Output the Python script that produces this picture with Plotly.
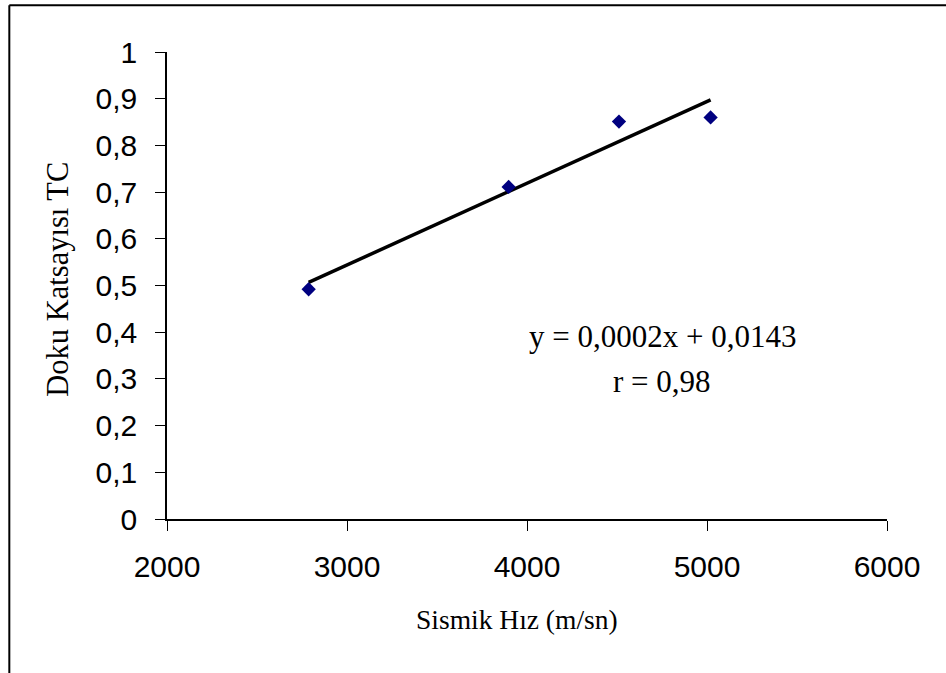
import numpy as np
import plotly.graph_objects as go

# Data
velocity = [2787, 3898, 4511, 5020]          # Sismik Hız (m/sn)
texture_coef = [0.492, 0.711, 0.851, 0.860]  # Doku Katsayısı TC

x_tickvals = [2000, 3000, 4000, 5000, 6000]
x_ticktext = ["2000", "3000", "4000", "5000", "6000"]
y_tickvals = [0, 0.1, 0.2, 0.3, 0.4, 0.5, 0.6, 0.7, 0.8, 0.9, 1.0]
y_ticktext = ["0", "0,1", "0,2", "0,3", "0,4", "0,5", "0,6", "0,7", "0,8", "0,9", "1"]

x_title = "Sismik Hız (m/sn)"
y_title = "Doku Katsayısı TC"
equation_text = "y = 0,0002x + 0,0143"
r_text = "r = 0,98"

# Linear trendline fitted to the data
slope, intercept = np.polyfit(velocity, texture_coef, 1)
trend_x = [min(velocity), max(velocity)]
trend_y = [slope * v + intercept for v in trend_x]

fig = go.Figure()
fig.add_trace(go.Scatter(
    x=trend_x, y=trend_y, mode="lines",
    line=dict(color="black", width=3.5),
    showlegend=False, hoverinfo="skip",
))
fig.add_trace(go.Scatter(
    x=velocity, y=texture_coef, mode="markers",
    marker=dict(symbol="diamond", size=11, color="#000080"),
    showlegend=False,
))

serif = "Liberation Serif, Times New Roman, serif"
sans = "Liberation Sans, Arial, sans-serif"

fig.update_layout(
    width=946, height=673,
    margin=dict(l=167, r=59, t=52, b=154),
    paper_bgcolor="white", plot_bgcolor="white",
    xaxis=dict(
        range=[2000, 6000], tickvals=x_tickvals, ticktext=x_ticktext,
        showgrid=False, zeroline=False, showline=True, linecolor="black", linewidth=1.5,
        ticks="outside", ticklen=10, tickwidth=1, tickcolor="black",
        tickfont=dict(family=sans, size=30, color="black"),
        ticklabelstandoff=10,
    ),
    yaxis=dict(
        range=[0, 1], tickvals=y_tickvals, ticktext=y_ticktext,
        showgrid=False, zeroline=False, showline=True, linecolor="black", linewidth=1.5,
        ticks="outside", ticklen=10, tickwidth=1, tickcolor="black",
        tickfont=dict(family=sans, size=30, color="black"),
        ticklabelstandoff=12,
    ),
    annotations=[
        dict(x=4751, y=0.39, xref="x", yref="y", text=equation_text, showarrow=False,
             font=dict(family=serif, size=31, color="black")),
        dict(x=4751, y=0.294, xref="x", yref="y", text=r_text, showarrow=False,
             font=dict(family=serif, size=31, color="black")),
        dict(x=0.4857, y=-0.2154, xref="paper", yref="paper", text=x_title, showarrow=False,
             xanchor="center", yanchor="middle",
             font=dict(family=serif, size=27.5, color="black")),
        dict(x=-0.1518, y=0.514, xref="paper", yref="paper", text=y_title, showarrow=False,
             textangle=-90, xanchor="center", yanchor="middle",
             font=dict(family=serif, size=30.5, color="black")),
    ],
    shapes=[
        dict(type="line", xref="paper", yref="paper", x0=-0.219, x1=-0.219, y0=-0.34, y1=1.0999,
             line=dict(color="black", width=2)),
        dict(type="line", xref="paper", yref="paper", x0=-0.219, x1=1.1, y0=1.0999, y1=1.0999,
             line=dict(color="black", width=2)),
    ],
)

fig.write_html("out.html")
